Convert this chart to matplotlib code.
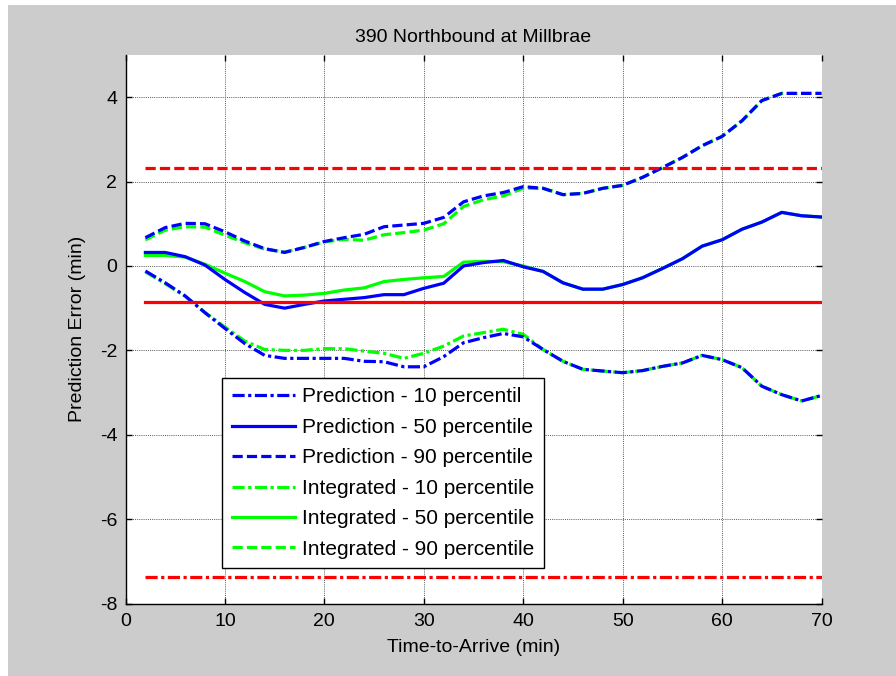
import matplotlib
matplotlib.use("Agg")
import matplotlib.pyplot as plt
from matplotlib.patches import Rectangle

plt.rcParams['font.family'] = ['Liberation Sans', 'DejaVu Sans']
plt.rcParams['axes.unicode_minus'] = False

# Data
time_min = [2, 4, 6, 8, 10, 12, 14, 16, 18, 20, 22, 24, 26, 28, 30, 32, 34, 36,
            38, 40, 42, 44, 46, 48, 50, 52, 54, 56, 58, 60, 62, 64, 66, 68, 70]

pred_p10 = [-0.12, -0.40, -0.71, -1.11, -1.48, -1.84, -2.12, -2.19, -2.19, -2.19, -2.19, -2.26,
            -2.27, -2.39, -2.39, -2.15, -1.82, -1.70, -1.60, -1.68, -1.98, -2.26, -2.45, -2.49,
            -2.53, -2.48, -2.38, -2.30, -2.12, -2.22, -2.41, -2.85, -3.05, -3.20, -3.07]
pred_p50 = [0.32, 0.32, 0.22, 0.02, -0.32, -0.63, -0.91, -1.00, -0.91, -0.83, -0.79, -0.75,
            -0.68, -0.68, -0.53, -0.41, 0.00, 0.08, 0.13, -0.02, -0.13, -0.40, -0.55, -0.55,
            -0.44, -0.28, -0.06, 0.17, 0.47, 0.62, 0.87, 1.04, 1.27, 1.19, 1.16]
pred_p90 = [0.67, 0.91, 1.01, 1.00, 0.81, 0.59, 0.41, 0.32, 0.44, 0.58, 0.67, 0.75,
            0.93, 0.97, 1.01, 1.15, 1.52, 1.66, 1.74, 1.88, 1.84, 1.69, 1.72, 1.84,
            1.91, 2.10, 2.33, 2.57, 2.85, 3.07, 3.44, 3.92, 4.09, 4.09, 4.09]

int_p10 = [-0.14, -0.42, -0.72, -1.10, -1.45, -1.78, -1.98, -2.00, -2.00, -1.96, -1.96, -2.02,
           -2.07, -2.19, -2.07, -1.90, -1.66, -1.58, -1.50, -1.62, -1.98, -2.26, -2.45, -2.49,
           -2.53, -2.48, -2.38, -2.30, -2.12, -2.22, -2.41, -2.85, -3.05, -3.20, -3.07]
int_p50 = [0.25, 0.25, 0.21, 0.04, -0.17, -0.37, -0.61, -0.71, -0.69, -0.65, -0.57, -0.52,
           -0.37, -0.32, -0.28, -0.25, 0.09, 0.11, 0.10, 0.00, -0.13, -0.40, -0.55, -0.55,
           -0.44, -0.28, -0.06, 0.17, 0.47, 0.62, 0.87, 1.04, 1.27, 1.19, 1.16]
int_p90 = [0.62, 0.85, 0.93, 0.92, 0.73, 0.55, 0.40, 0.33, 0.44, 0.57, 0.63, 0.61,
           0.74, 0.79, 0.85, 1.00, 1.41, 1.57, 1.66, 1.84, 1.84, 1.69, 1.72, 1.84,
           1.91, 2.10, 2.33, 2.57, 2.85, 3.07, 3.44, 3.92, 4.09, 4.09, 4.09]

ref_x = [2, 70]
ref_upper = 2.32
ref_mid = -0.86
ref_lower = -7.38

x_ticks = [0, 10, 20, 30, 40, 50, 60, 70]
y_ticks = [-8, -6, -4, -2, 0, 2, 4]

W, H = 896, 676
fig = plt.figure(figsize=(W / 100, H / 100), dpi=100, facecolor='white')
fig.patches.append(Rectangle((8 / W, 0), 1, 1 - 5 / H, transform=fig.transFigure,
                             facecolor='#cccccc', edgecolor='none', zorder=-10))

ax = fig.add_axes([125.5 / W, (H - 603.5) / H, 696 / W, 548.5 / H])
ax.set_facecolor('white')

lw = 2.3
dash = (0, (3.2, 1.3))
dashdot = (0, (3.8, 1.1, 1.0, 1.1))

l1, = ax.plot(time_min, pred_p10, color='#0000ff', lw=lw, ls=dashdot, zorder=3)
l2, = ax.plot(time_min, pred_p50, color='#0000ff', lw=lw, ls='-', zorder=3)
l3, = ax.plot(time_min, pred_p90, color='#0000ff', lw=lw, ls=dash, zorder=3)
l4, = ax.plot(time_min, int_p10, color='#00ff00', lw=lw, ls=dashdot, zorder=2.5)
l5, = ax.plot(time_min, int_p50, color='#00ff00', lw=lw, ls='-', zorder=2.5)
l6, = ax.plot(time_min, int_p90, color='#00ff00', lw=lw, ls=dash, zorder=2.5)

ax.plot(ref_x, [ref_upper, ref_upper], color='#ff0000', lw=lw, ls=dash, zorder=4)
ax.plot(ref_x, [ref_mid, ref_mid], color='#ff0000', lw=lw, ls='-', zorder=4)
ax.plot(ref_x, [ref_lower, ref_lower], color='#ff0000', lw=lw, ls=dashdot, zorder=4)

ax.set_xlim(0, 70)
ax.set_ylim(-8, 5)
ax.set_xticks(x_ticks)
ax.set_yticks(y_ticks)
ax.grid(True, color='0.35', lw=0.7, ls=(0, (1, 1.2)))
ax.set_axisbelow(True)

for s in ['top', 'right']:
    ax.spines[s].set_visible(False)
for s in ['left', 'bottom']:
    ax.spines[s].set_linewidth(1.0)

ax.tick_params(direction='in', length=4, width=1, top=True, right=True,
               labelsize=14)
ax.tick_params(axis='x', pad=7)
ax.tick_params(axis='y', pad=6)

ax.set_title('390 Northbound at Millbrae', fontsize=14, pad=9)
ax.set_xlabel('Time-to-Arrive (min)', fontsize=14, labelpad=6)
ax.set_ylabel('Prediction Error (min)', fontsize=14, labelpad=10)

labels = ['Prediction - 10 percentil', 'Prediction - 50 percentile',
          'Prediction - 90 percentile', 'Integrated - 10 percentile',
          'Integrated - 50 percentile', 'Integrated - 90 percentile']
leg = ax.legend([l1, l2, l3, l4, l5, l6], labels, loc='upper left',
                bbox_to_anchor=(0.139, 0.411), borderaxespad=0, fontsize=15,
                handlelength=3.05, handletextpad=0.35, labelspacing=0.55,
                borderpad=0.45, fancybox=False, framealpha=1, edgecolor='black')
leg.get_frame().set_linewidth(1.0)
leg.set_zorder(5)

fig.savefig('out.png', dpi=100, facecolor=fig.get_facecolor())
